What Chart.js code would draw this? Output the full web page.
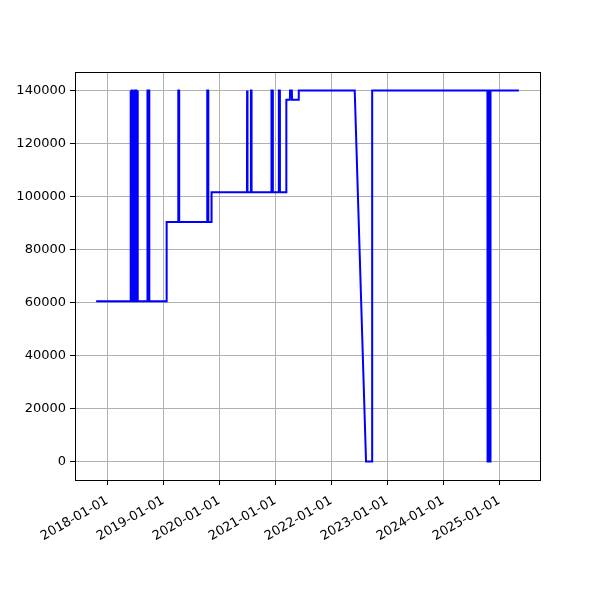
<!DOCTYPE html>
<html>
<head>
<meta charset="utf-8">
<script src="https://cdn.jsdelivr.net/npm/chart.js@4"></script>
<style>
  html, body { margin: 0; padding: 0; background: #fff; }
  canvas { display: block; }
</style>
</head>
<body>
<canvas id="chart" width="600" height="600"></canvas>
<script>
// series: date of each reading and the value recorded
const dates = [
  '2017-10-20', '2018-05-31',
  '2018-06-01', '2018-06-04', '2018-06-05', '2018-06-09',
  '2018-06-10', '2018-06-13', '2018-06-14', '2018-06-18',
  '2018-06-19', '2018-06-22', '2018-06-23', '2018-06-27',
  '2018-06-28', '2018-07-01', '2018-07-02', '2018-07-06',
  '2018-07-07', '2018-07-10', '2018-07-11', '2018-07-15',
  '2018-07-16', '2018-07-19', '2018-07-20',
  '2018-09-19', '2018-09-20', '2018-10-01', '2018-10-02',
  '2019-01-22', '2019-01-23',
  '2019-04-08', '2019-04-09', '2019-04-14', '2019-04-15',
  '2019-10-14', '2019-10-15', '2019-10-21', '2019-10-22',
  '2019-11-11', '2019-11-12',
  '2020-06-30', '2020-07-01', '2020-07-03', '2020-07-04',
  '2020-07-25', '2020-07-26', '2020-07-29', '2020-07-30',
  '2020-12-06', '2020-12-07', '2020-12-15', '2020-12-16',
  '2021-01-23', '2021-01-24', '2021-01-30', '2021-01-31',
  '2021-03-13', '2021-03-14',
  '2021-04-06', '2021-04-07', '2021-04-19', '2021-04-20',
  '2021-06-02', '2021-06-03',
  '2022-06-03', '2022-08-16', '2022-09-24', '2022-09-25',
  '2024-10-16', '2024-10-17', '2024-10-22', '2024-10-23',
  '2024-10-30', '2024-10-31', '2024-11-04', '2024-11-05',
  '2025-05-09'
];
const values = [
  60500, 60500,
  140000, 140000, 60500, 60500,
  140000, 140000, 60500, 60500,
  140000, 140000, 60500, 60500,
  140000, 140000, 60500, 60500,
  140000, 140000, 60500, 60500,
  140000, 140000, 60500,
  60500, 140000, 140000, 60500,
  60500, 90400,
  90400, 140000, 140000, 90400,
  90400, 140000, 140000, 90400,
  90400, 101600,
  101600, 140000, 140000, 101600,
  101600, 140000, 140000, 101600,
  101600, 140000, 140000, 101600,
  101600, 140000, 140000, 101600,
  101600, 136500,
  136500, 140000, 140000, 136500,
  136500, 140000,
  140000, 0, 0, 140000,
  140000, 0, 0, 140000,
  140000, 0, 0, 140000,
  140000
];
const xTickLabels = [
  '2018-01-01', '2019-01-01', '2020-01-01', '2021-01-01',
  '2022-01-01', '2023-01-01', '2024-01-01', '2025-01-01'
];
const yTicks = [0, 20000, 40000, 60000, 80000, 100000, 120000, 140000];

const points = dates.map((d, i) => ({ x: Date.parse(d), y: values[i] }));

// matplotlib-like 5% margins
const xFirst = points[0].x, xLast = points[points.length - 1].x;
const xPad = (xLast - xFirst) * 0.05;
const yPad = (140000 - 0) * 0.05;

const frame = {
  id: 'frame',
  afterDraw(chart) {
    const a = chart.chartArea;
    const ctx = chart.ctx;
    ctx.save();
    ctx.strokeStyle = '#000';
    ctx.lineWidth = 1;
    ctx.strokeRect(Math.round(a.left) + 0.5, Math.round(a.top) + 0.5,
      Math.round(a.right - a.left), Math.round(a.bottom - a.top));
    ctx.restore();
  }
};

Chart.defaults.font.family = 'DejaVu Sans';
Chart.defaults.font.size = 13;
Chart.defaults.color = '#000';

new Chart(document.getElementById('chart'), {
  type: 'line',
  data: {
    datasets: [{
      data: points,
      borderColor: '#0000ff',
      borderWidth: 2,
      pointRadius: 0,
      tension: 0,
      fill: false
    }]
  },
  options: {
    responsive: false,
    animation: false,
    layout: { padding: { left: 0, right: 60, top: 72, bottom: 0 } },
    plugins: { legend: { display: false }, tooltip: { enabled: false } },
    scales: {
      x: {
        type: 'linear',
        min: xFirst - xPad,
        max: xLast + xPad,
        afterBuildTicks: scale => {
          scale.ticks = xTickLabels.map(t => ({ value: Date.parse(t) }));
        },
        afterFit: scale => { scale.height = 120; },
        ticks: {
          autoSkip: false,
          maxRotation: 30,
          minRotation: 30,
          padding: 8,
          callback: (v, i) => xTickLabels[i]
        },
        grid: { color: '#b0b0b0', lineWidth: 1, tickColor: '#000', tickLength: 5 },
        border: { color: '#000', width: 1 }
      },
      y: {
        min: -yPad,
        max: 140000 + yPad,
        afterBuildTicks: scale => {
          scale.ticks = yTicks.map(v => ({ value: v }));
        },
        afterFit: scale => { scale.width = 75; },
        ticks: {
          padding: 4,
          callback: v => String(v)
        },
        grid: { color: '#b0b0b0', lineWidth: 1, tickColor: '#000', tickLength: 5 },
        border: { color: '#000', width: 1 }
      }
    }
  },
  plugins: [frame]
});
</script>
</body>
</html>
